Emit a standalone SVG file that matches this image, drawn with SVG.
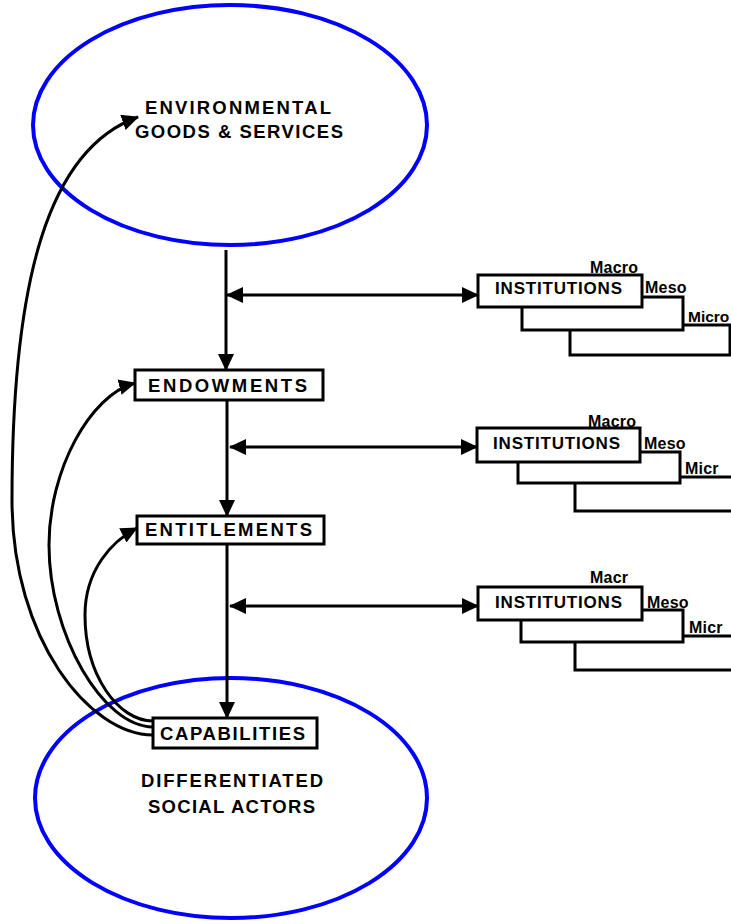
<svg xmlns="http://www.w3.org/2000/svg" width="731" height="924" viewBox="0 0 731 924">
<defs>
<marker id="ah" viewBox="0 0 17 16" refX="16" refY="8" markerWidth="17" markerHeight="16" markerUnits="userSpaceOnUse" orient="auto-start-reverse">
<path d="M0,0 L17,8 L0,16 z" fill="#000"/>
</marker>
<style>
.ell{fill:none;stroke:#0000ff;stroke-width:4}
.box{fill:#fff;stroke:#000;stroke-width:3}
.ln{fill:none;stroke:#000;stroke-width:3}
.t{font-family:"Liberation Sans",Arial,sans-serif;font-weight:bold;font-size:18.5px;fill:#000}
.ti{font-family:"Liberation Sans",Arial,sans-serif;font-weight:bold;font-size:17px;fill:#000}
.ts{font-family:"Liberation Sans",Arial,sans-serif;font-weight:bold;font-size:16px;letter-spacing:0.2px;fill:#000}
</style>
</defs>
<g id="env">
<ellipse class="ell" cx="230" cy="125" rx="197" ry="120"/>
<text class="t" x="145" y="114" textLength="186" lengthAdjust="spacing">ENVIRONMENTAL</text>
<text class="t" x="135" y="138" textLength="208" lengthAdjust="spacing">GOODS &amp; SERVICES</text>
</g>
<g id="actors">
<ellipse class="ell" cx="231" cy="798" rx="196" ry="120"/>
<text class="t" x="141" y="787" textLength="182" lengthAdjust="spacing">DIFFERENTIATED</text>
<text class="t" x="148" y="813" textLength="167" lengthAdjust="spacing">SOCIAL ACTORS</text>
</g>
<g id="connectors">
<path class="ln" d="M226,250 V370" marker-end="url(#ah)"/>
<path class="ln" d="M227,400 V516" marker-end="url(#ah)"/>
<path class="ln" d="M227,544 V718" marker-end="url(#ah)"/>
<path class="ln" d="M227,295 H478" marker-start="url(#ah)" marker-end="url(#ah)"/>
<path class="ln" d="M230,447 H477" marker-start="url(#ah)" marker-end="url(#ah)"/>
<path class="ln" d="M230,606 H478" marker-start="url(#ah)" marker-end="url(#ah)"/>
<path class="ln" d="M153,735 C90,735 12,640 12,500 C12,280 48,149 138,117" marker-end="url(#ah)"/>
<path class="ln" d="M153,727 C103,727 49,635 49,545 C49,470 90,395 135,383" marker-end="url(#ah)"/>
<path class="ln" d="M153,721 C118,721 85,675 85,615 C85,570 112,541 137,528" marker-end="url(#ah)"/>
</g>
<g id="endowments">
<rect class="box" x="135" y="370" width="188" height="30"/>
<text class="t" x="148" y="392" textLength="159" lengthAdjust="spacing">ENDOWMENTS</text>
</g>
<g id="entitlements">
<rect class="box" x="137" y="516" width="187" height="28"/>
<text class="t" x="145" y="536" textLength="167" lengthAdjust="spacing">ENTITLEMENTS</text>
</g>
<g id="capabilities">
<rect class="box" x="153" y="718" width="164" height="30"/>
<text class="t" x="160" y="740" textLength="145" lengthAdjust="spacing">CAPABILITIES</text>
</g>
<g id="institutions1">
<rect class="box" x="570" y="325" width="160" height="30"/>
<rect class="box" x="522" y="297" width="161" height="33"/>
<rect class="box" x="478" y="275" width="164" height="32"/>
<text class="ti" x="495" y="294" textLength="127" lengthAdjust="spacing">INSTITUTIONS</text>
<text class="ts" x="590" y="273">Macro</text>
<text class="ts" x="645" y="293">Meso</text>
<text class="ts" x="688" y="322" style="font-size:15.5px;letter-spacing:0">Micro</text>
</g>
<g id="institutions2">
<rect class="box" x="575" y="477" width="170" height="34"/>
<rect class="box" x="518" y="452" width="162" height="31"/>
<rect class="box" x="477" y="428" width="163" height="34"/>
<text class="ti" x="493" y="449" textLength="127" lengthAdjust="spacing">INSTITUTIONS</text>
<text class="ts" x="588" y="427">Macro</text>
<text class="ts" x="644" y="449">Meso</text>
<text class="ts" x="685" y="474">Micr</text>
</g>
<g id="institutions3">
<rect class="box" x="575" y="636" width="170" height="34"/>
<rect class="box" x="521" y="610" width="162" height="32"/>
<rect class="box" x="478" y="587" width="164" height="33"/>
<text class="ti" x="495" y="608" textLength="127" lengthAdjust="spacing">INSTITUTIONS</text>
<text class="ts" x="590" y="583">Macr</text>
<text class="ts" x="647" y="608">Meso</text>
<text class="ts" x="689" y="633">Micr</text>
</g>
</svg>
